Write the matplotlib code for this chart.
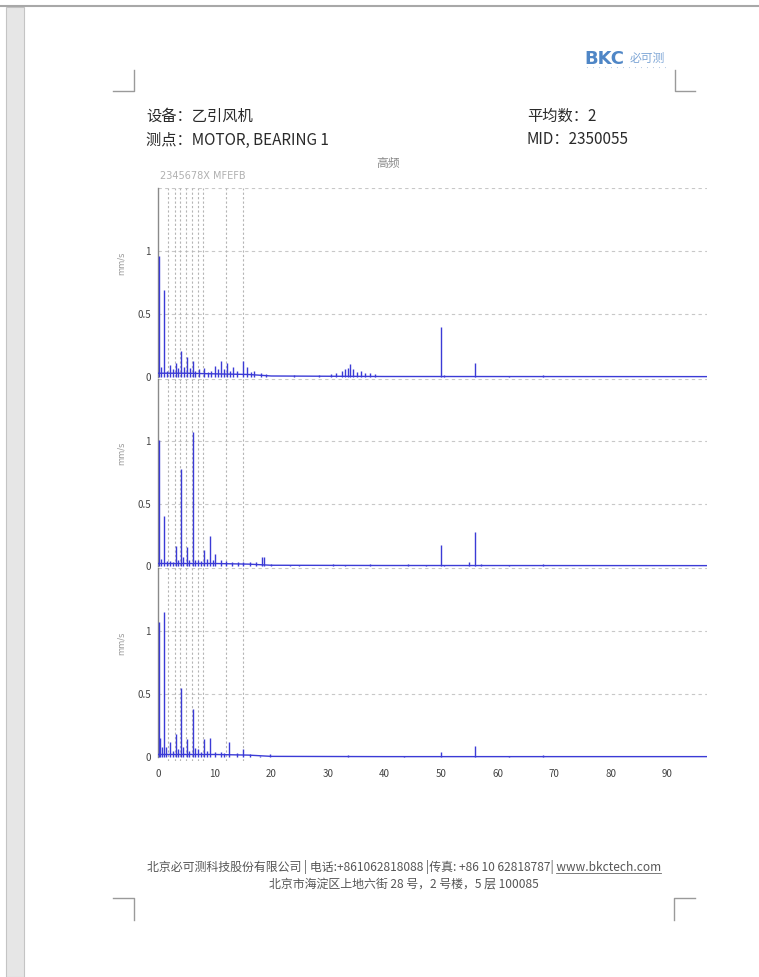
import matplotlib
matplotlib.use('Agg')
import matplotlib.pyplot as plt
from matplotlib.lines import Line2D
from matplotlib.patches import Rectangle

plt.rcParams['font.family'] = ['Noto Sans CJK SC', 'DejaVu Sans']

W, H = 759, 977

# header / footer text
device_text = '设备：乙引风机'
point_text = '测点：MOTOR, BEARING 1'
avg_text = '平均数：2'
mid_text = 'MID：2350055'
title_text = '高频'
marker_label = '2345678X MFEFB'
unit_label = 'mm/s'
footer_line1 = '北京必可测科技股份有限公司 | 电话:+861062818088 |传真: +86 10 62818787| www.bkctech.com'
footer_url = 'www.bkctech.com'
footer_line2 = '北京市海淀区上地六街 28 号，2 号楼，5 层 100085'

# axis ticks
x_ticks = [0, 10, 20, 30, 40, 50, 60, 70, 80, 90]
y_ticks = [0, 0.5, 1]
y_tick_labels = ['0', '0.5', '1']

# fault frequency marker lines
marker_freqs = [1.85, 3.0, 3.9, 4.95, 5.95, 7.0, 7.9, 12.0, 15.05]

# spectrum 1 (peaks)
freq1 = [0.25, 0.6, 1.1, 1.6, 2.1, 2.6, 3.2, 3.6, 4.1, 4.6, 5.1, 5.6, 6.1, 6.6, 7.2, 8.2, 8.8,
         9.3, 10.1, 10.6, 11.1, 11.6, 12.2, 12.7, 13.2, 14.0, 15.0, 15.8, 16.4, 17.0, 18.2,
         19.0, 24.0, 28.5, 30.5, 31.5, 32.5, 33.0, 33.5, 33.9, 34.5, 35.2, 35.8, 36.5, 37.5,
         38.3, 50.0, 50.6, 56.0, 62.0, 68.0]
amp1 = [0.96, 0.08, 0.69, 0.05, 0.095, 0.06, 0.11, 0.07, 0.21, 0.08, 0.16, 0.07, 0.13, 0.05,
        0.06, 0.07, 0.04, 0.05, 0.09, 0.06, 0.13, 0.06, 0.11, 0.05, 0.08, 0.05, 0.13, 0.08,
        0.04, 0.05, 0.03, 0.02, 0.015, 0.012, 0.02, 0.03, 0.05, 0.06, 0.07, 0.10, 0.06, 0.04,
        0.05, 0.03, 0.03, 0.02, 0.40, 0.015, 0.11, 0.008, 0.015]

# spectrum 2 (peaks)
freq2 = [0.2, 0.6, 1.1, 1.6, 2.1, 2.6, 3.2, 3.6, 4.05, 4.5, 5.05, 5.5, 6.1, 6.6, 7.1, 7.6,
         8.2, 8.7, 9.2, 9.7, 10.1, 11.1, 12.1, 13.1, 14.1, 15.1, 16.2, 17.4, 18.3, 18.8,
         20.0, 23.3, 25.0, 31.0, 33.0, 37.5, 44.2, 47.3, 50.0, 50.6, 55.0, 56.0, 57.0, 62.0, 68.0]
amp2 = [1.01, 0.06, 0.40, 0.04, 0.04, 0.03, 0.16, 0.05, 0.78, 0.07, 0.155, 0.05, 1.07, 0.05,
        0.05, 0.04, 0.13, 0.06, 0.24, 0.05, 0.10, 0.05, 0.04, 0.035, 0.03, 0.035, 0.03,
        0.035, 0.075, 0.07, 0.02, 0.012, 0.01, 0.02, 0.012, 0.02, 0.02, 0.01, 0.17, 0.01,
        0.03, 0.275, 0.02, 0.01, 0.015]

# spectrum 3 (peaks)
freq3 = [0.1, 0.4, 0.7, 1.1, 1.5, 2.1, 2.6, 3.2, 3.6, 4.05, 4.5, 5.05, 5.5, 6.1, 6.5, 7.1,
         7.6, 8.2, 8.7, 9.2, 10.1, 11.1, 11.7, 12.5, 13.9, 15.1, 16.2, 18.0, 19.8, 33.5,
         43.5, 50.0, 56.0, 62.0, 68.0]
amp3 = [1.07, 0.15, 0.08, 1.15, 0.08, 0.12, 0.05, 0.18, 0.06, 0.545, 0.08, 0.14, 0.05,
        0.38, 0.07, 0.06, 0.04, 0.14, 0.05, 0.15, 0.04, 0.04, 0.03, 0.12, 0.03, 0.06, 0.02,
        0.01, 0.02, 0.012, 0.005, 0.04, 0.09, 0.01, 0.015]

# noise floor under each spectrum
floor_freq = [0, 5, 10, 16, 20, 30, 40, 97]
floor1 = [0.03, 0.03, 0.025, 0.02, 0.008, 0.006, 0.004, 0.003]
floor2 = [0.02, 0.02, 0.02, 0.015, 0.006, 0.005, 0.004, 0.003]
floor3 = [0.02, 0.02, 0.02, 0.015, 0.005, 0.004, 0.003, 0.003]

spectra = [(freq1, amp1, floor1), (freq2, amp2, floor2), (freq3, amp3, floor3)]

# pixel positions of y=0 and y=1 for each panel
panel_px = [(377, 251), (566, 441), (757, 631)]
x_left_px, x_right_px = 158, 707
x_max = 97.0
y_min, y_max = -0.03, 1.5

line_color = '#3b3bd6'
grid_color = '#c8c8c8'
text_gray = '#444444'


def fx(px):
    return px / W


def fy(py):
    return 1 - py / H


def page_frame(fig):
    # document viewer border and gray strip
    fig.add_artist(Line2D([0, 1], [fy(6), fy(6)], color='#a8a8a8', lw=1.5))
    fig.add_artist(Rectangle((fx(6), 0), fx(18), fy(7), facecolor='#e6e6e6',
                             edgecolor='#c4c4c4', lw=0.8))
    # crop marks
    gray = '#9a9a9a'
    for xs, ys in [([113, 134, 134], [91, 91, 70]),
                   ([695, 675, 675], [91, 91, 70]),
                   ([113, 134, 134], [898, 898, 920]),
                   ([695, 674, 674], [898, 898, 920])]:
        fig.add_artist(Line2D([fx(v) for v in xs], [fy(v) for v in ys], color=gray, lw=1))


def logo(fig):
    fig.text(fx(584), fy(59), 'BKC', color='#4f86c6', fontsize=13, fontweight='bold',
             va='center', ha='left', family=['DejaVu Sans'])
    fig.text(fx(630), fy(58), '必可测', color='#7ea6d6', fontsize=8.5, va='center', ha='left')
    fig.text(fx(585), fy(69), '· · · · · · · · · · · · · ·', color='#a9c2e0', fontsize=3.5,
             va='center', ha='left')


def header(fig):
    kw = dict(fontsize=11, color='#2a2a2a', va='center', ha='left')
    fig.text(fx(146), fy(116), device_text, **kw)
    fig.text(fx(146), fy(140), point_text, **kw)
    fig.text(fx(527), fy(116), avg_text, **kw)
    fig.text(fx(527), fy(140), mid_text, **kw)
    fig.text(fx(388), fy(164), title_text, fontsize=8.5, color='#8a8a8a', va='center', ha='center')
    fig.text(fx(160), fy(176), marker_label, fontsize=7, color='#b0b0b0', va='center',
             ha='left', family=['DejaVu Sans'])


def draw_panel(fig, idx, freqs, amps, floor):
    y0, y1 = panel_px[idx]
    scale = y0 - y1
    bottom_px = y0 - y_min * scale
    top_px = y0 - y_max * scale
    ax = fig.add_axes([fx(x_left_px), fy(bottom_px), fx(x_right_px - x_left_px),
                       (bottom_px - top_px) / H])
    ax.set_facecolor('none')
    ax.set_xlim(0, x_max)
    ax.set_ylim(y_min, y_max)

    for v in [0.5, 1.0, 1.5]:
        ax.axhline(v, color=grid_color, lw=0.8, ls=(0, (3, 3)), zorder=1)
    for f in marker_freqs:
        ax.axvline(f, color='#b5b5b5', lw=0.8, ls=(0, (2, 2)), zorder=1)

    ax.plot(floor_freq, floor, color=line_color, lw=1.0, zorder=3)
    ax.vlines(freqs, 0, amps, color=line_color, lw=1.0, zorder=3)

    for s in ['top', 'right', 'bottom']:
        ax.spines[s].set_visible(False)
    ax.spines['left'].set_color('#8a8a8a')
    ax.spines['left'].set_linewidth(1.0)
    ax.spines['left'].set_bounds(0, y_max)

    ax.set_yticks(y_ticks)
    ax.set_yticklabels(y_tick_labels)
    ax.tick_params(axis='y', length=0, pad=5, labelsize=7, labelcolor=text_gray)
    ax.set_xticks(x_ticks)
    if idx == 2:
        ax.tick_params(axis='x', length=0, pad=6, labelsize=7, labelcolor=text_gray)
    else:
        ax.tick_params(axis='x', length=0, labelbottom=False)

    fig.text(fx(121), fy(y0 - 0.9 * scale), unit_label, rotation=90, fontsize=6,
             color='#9a9a9a', va='center', ha='center', family=['DejaVu Sans'])
    return ax


def footer(fig):
    kw = dict(fontsize=8.6, color='#555555', va='center', ha='center')
    t1 = fig.text(fx(404), fy(867), footer_line1, **kw)
    fig.text(fx(404), fy(884), footer_line2, **kw)
    # underline the url at the end of line 1
    fig.canvas.draw()
    r = fig.canvas.get_renderer()
    bb = t1.get_window_extent(r)
    probe = fig.text(0, 0, footer_url, fontsize=8.6)
    uw = probe.get_window_extent(r).width
    probe.remove()
    yline = bb.y0 + 1
    fig.add_artist(Line2D([(bb.x1 - uw) / W, bb.x1 / W], [yline / H, yline / H],
                          color='#666666', lw=0.6))


if __name__ == "__main__":
    fig = plt.figure(figsize=(W / 100, H / 100), dpi=100)
    fig.patch.set_facecolor('white')

    page_frame(fig)
    logo(fig)
    header(fig)
    for i, (f, a, fl) in enumerate(spectra):
        draw_panel(fig, i, f, a, fl)
    footer(fig)

    fig.savefig('out.png', dpi=100)
